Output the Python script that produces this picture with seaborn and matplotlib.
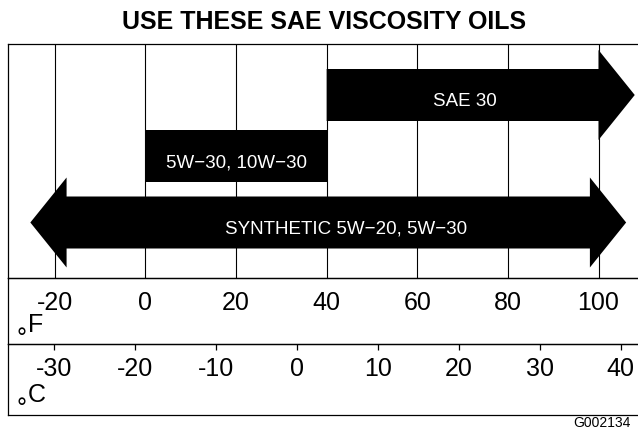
import matplotlib
matplotlib.use("Agg")
import matplotlib.pyplot as plt
import seaborn as sns

# oil bands (degrees F)
oils = ["SAE 30", "5W\u221230, 10W\u221230", "SYNTHETIC 5W\u221220, 5W\u221230"]
oil_low = [40, 0, -17.4]
oil_high = [100, 40, 98.1]
head_left = [False, False, True]
head_right = [True, False, True]

f_ticks = [-20, 0, 20, 40, 60, 80, 100]
c_ticks = [-30, -20, -10, 0, 10, 20, 30, 40]

title = "USE THESE SAE VISCOSITY OILS"
fig_code = "G002134"

# layout (main panel y is in pixels from its top edge)
row_y = [51, 112, 178.5]
label_x = [70.4, 20, 44.3]
bar_h = 52
head_half = 45
head_len = 8
f_lim = (-30.33, 109.6)
c_lim = (-35.73, 42.63)

sns.set_theme(style="white")
plt.rcParams["font.family"] = ["Liberation Sans", "DejaVu Sans"]
plt.rcParams["text.color"] = "black"
plt.rcParams["xtick.color"] = "black"

W, H = 638, 429
fig = plt.figure(figsize=(W / 100, H / 100), dpi=100)


def box(top, bottom):
    return [8 / W, 1 - bottom / H, 634 / W, (bottom - top) / H]


ax = fig.add_axes(box(44, 278))
ax_f = fig.add_axes(box(278, 344))
ax_c = fig.add_axes(box(344, 414.5))

for a in (ax, ax_f, ax_c):
    a.set_facecolor("none")
    for side, sp in a.spines.items():
        sp.set_color("black")
        sp.set_linewidth(0.9)
        sp.set_visible(side != "right")
    a.set_yticks([])

# main panel: grid lines and arrows
ax.set_xlim(*f_lim)
ax.set_ylim(234, 0)
ax.set_xticks(f_ticks)
ax.tick_params(axis="x", length=0, labelbottom=False)
ax.grid(axis="x", color="black", linewidth=0.8)
ax.set_axisbelow(True)

for name, lo, hi, hl, hr, y, lx in zip(oils, oil_low, oil_high, head_left,
                                       head_right, row_y, label_x):
    top, bot = y - bar_h / 2, y + bar_h / 2
    xs, ys = [lo, hi], [top, top]
    if hr:
        xs += [hi, hi + head_len, hi]
        ys += [y - head_half, y, y + head_half]
    xs += [hi, lo]
    ys += [bot, bot]
    if hl:
        xs += [lo, lo - head_len, lo]
        ys += [y + head_half, y, y - head_half]
    ax.fill(xs, ys, color="black", linewidth=0, zorder=3)
    ax.text(lx, y + 11, name, color="white", fontsize=13.5, ha="center",
            va="baseline", zorder=4)

# Fahrenheit scale
ax_f.set_xlim(*f_lim)
ax_f.xaxis.tick_top()
ax_f.set_xticks(f_ticks)
ax_f.set_xticklabels([str(t) for t in f_ticks])
ax_f.tick_params(axis="x", length=0, pad=-26.5, labelsize=18, colors="black")

# Celsius scale
ax_c.set_xlim(*c_lim)
ax_c.xaxis.tick_top()
ax_c.set_xticks(c_ticks)
ax_c.set_xticklabels([str(t) for t in c_ticks])
ax_c.tick_params(axis="x", direction="in", length=4.3, width=0.9, pad=-26.5,
                 labelsize=18, colors="black")

# unit marks
for unit, base in (("F", 331.7), ("C", 401.7)):
    fig.text(28 / W, 1 - base / H, unit, fontsize=18, ha="left", va="baseline")
    fig.text(17 / W, 1 - (base + 14) / H, "\u00b0", fontsize=18, ha="left",
             va="baseline")

fig.text(324 / W, 1 - 29.3 / H, title, fontsize=18, fontweight="bold",
         ha="center", va="baseline")
fig.text(631 / W, 1 - 427 / H, fig_code, fontsize=10, ha="right",
         va="baseline")

fig.savefig("out.png", dpi=100)
